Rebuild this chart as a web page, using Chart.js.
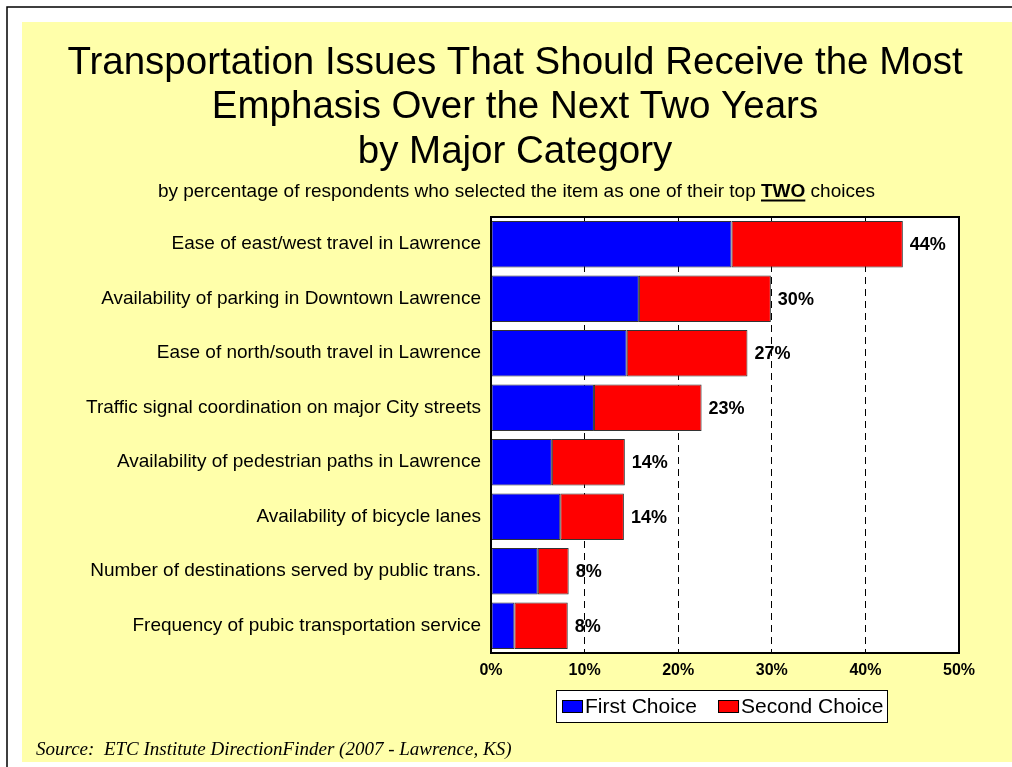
<!DOCTYPE html>
<html>
<head>
<meta charset="utf-8">
<title>Transportation Issues</title>
<script src="https://cdn.jsdelivr.net/npm/chart.js@4/dist/chart.umd.min.js"></script>
<style>
  body { margin: 0; background: #fff; }
  canvas { display: block; }
</style>
</head>
<body>
<canvas id="issuesChart" width="1012" height="767"></canvas>
<script>
const categories = [
    'Ease of east/west travel in Lawrence',
    'Availability of parking in Downtown Lawrence',
    'Ease of north/south travel in Lawrence',
    'Traffic signal coordination on major City streets',
    'Availability of pedestrian paths in Lawrence',
    'Availability of bicycle lanes',
    'Number of destinations served by public trans.',
    'Frequency of pubic transportation service'
];
const firstChoice = [25.7, 15.8, 14.5, 11.0, 6.5, 7.4, 5.0, 2.5];
const secondChoice = [18.3, 14.1, 12.9, 11.5, 7.8, 6.8, 3.3, 5.7];
const xTicks = [0, 10, 20, 30, 40, 50];

const titleLines = [
    'Transportation Issues That Should Receive the Most',
    'Emphasis Over the Next Two Years',
    'by Major Category'
];
const sourceText = 'Source:  ETC Institute DirectionFinder (2007 - Lawrence, KS)';

const SANS = '"Liberation Sans", Arial, sans-serif';
const SERIF = '"Liberation Serif", "Times New Roman", serif';
const YELLOW = '#FFFFAA';

// slide frame, titles, legend and source note
const slidePlugin = {
    id: 'slide',
    beforeDraw(chart) {
        const ctx = chart.ctx;
        const area = chart.chartArea;
        ctx.save();
        ctx.fillStyle = '#fff';
        ctx.fillRect(0, 0, chart.width, chart.height);
        ctx.strokeStyle = '#000';
        ctx.lineWidth = 1.5;
        ctx.beginPath();
        ctx.moveTo(7, chart.height);
        ctx.lineTo(7, 7);
        ctx.lineTo(chart.width, 7);
        ctx.stroke();
        ctx.fillStyle = YELLOW;
        ctx.fillRect(22, 22, chart.width - 22, 740);
        ctx.fillStyle = '#fff';
        ctx.fillRect(area.left, area.top, area.right - area.left, area.bottom - area.top);

        ctx.fillStyle = '#000';
        ctx.textAlign = 'center';
        ctx.textBaseline = 'alphabetic';
        ctx.font = '38.5px ' + SANS;
        const baselines = [74, 118, 163];
        titleLines.forEach((line, i) => ctx.fillText(line, 515, baselines[i]));

        // subtitle with the underlined bold word
        const partA = 'by percentage of respondents who selected the item as one of their top ';
        const partB = 'TWO';
        const partC = ' choices';
        const normal = '19px ' + SANS;
        const bold = 'bold 19px ' + SANS;
        ctx.font = normal;
        const wA = ctx.measureText(partA).width;
        const wC = ctx.measureText(partC).width;
        ctx.font = bold;
        const wB = ctx.measureText(partB).width;
        const x = 875 - (wA + wB + wC);
        const y = 197;
        ctx.textAlign = 'left';
        ctx.font = normal;
        ctx.fillText(partA, x, y);
        ctx.font = bold;
        ctx.fillText(partB, x + wA, y);
        ctx.fillRect(x + wA, y + 2.5, wB, 2);
        ctx.font = normal;
        ctx.fillText(partC, x + wA + wB, y);

        // source note
        ctx.font = 'italic 19px ' + SERIF;
        ctx.fillText(sourceText, 36, 755);

        // legend box
        ctx.fillStyle = '#fff';
        ctx.fillRect(556, 690, 331, 32);
        ctx.strokeStyle = '#000';
        ctx.lineWidth = 1;
        ctx.strokeRect(556.5, 690.5, 331, 32);
        ctx.font = '21px ' + SANS;
        ctx.textBaseline = 'middle';
        let lx = 562;
        chart.data.datasets.forEach(ds => {
            ctx.fillStyle = ds.backgroundColor;
            ctx.fillRect(lx, 700, 21, 13);
            ctx.strokeRect(lx + 0.5, 700.5, 20, 12);
            ctx.fillStyle = '#000';
            ctx.fillText(ds.label, lx + 23, 707);
            lx += 23 + ctx.measureText(ds.label).width + 21;
        });
        ctx.restore();
    },
    afterDatasetsDraw(chart) {
        const ctx = chart.ctx;
        const area = chart.chartArea;
        const xScale = chart.scales.x;
        const yScale = chart.scales.y;
        ctx.save();
        ctx.strokeStyle = '#000';
        ctx.lineWidth = 2;
        ctx.strokeRect(area.left, area.top, area.right - area.left, area.bottom - area.top);

        ctx.fillStyle = '#000';
        ctx.font = 'bold 18px ' + SANS;
        ctx.textAlign = 'left';
        ctx.textBaseline = 'middle';
        categories.forEach((c, i) => {
            const total = firstChoice[i] + secondChoice[i];
            ctx.fillText(Math.round(total) + '%', xScale.getPixelForValue(total) + 7, yScale.getPixelForValue(i) + 1);
        });
        ctx.restore();
    }
};

new Chart(document.getElementById('issuesChart'), {
    type: 'bar',
    data: {
        labels: categories,
        datasets: [{
            label: 'First Choice',
            data: firstChoice,
            backgroundColor: '#0000FF',
            borderColor: '#333',
            borderWidth: 1,
            borderSkipped: false
        }, {
            label: 'Second Choice',
            data: secondChoice,
            backgroundColor: '#FF0000',
            borderColor: '#333',
            borderWidth: 1,
            borderSkipped: false
        }]
    },
    options: {
        indexAxis: 'y',
        responsive: false,
        devicePixelRatio: 1,
        animation: false,
        barPercentage: 0.85,
        categoryPercentage: 1,
        layout: {
            padding: { left: 0, top: 217, right: 53, bottom: 74 }
        },
        scales: {
            x: {
                stacked: true,
                min: 0,
                max: 50,
                afterFit: scale => { scale.height = 40; },
                afterBuildTicks: scale => { scale.ticks = xTicks.map(v => ({ value: v })); },
                ticks: {
                    color: '#000',
                    padding: 8,
                    font: { family: SANS, size: 16, weight: 'bold' },
                    callback: v => v + '%'
                },
                grid: {
                    drawTicks: false,
                    lineWidth: 1,
                    color: c => (c.tick && (c.tick.value === 0 || c.tick.value === 50)) ? 'rgba(0,0,0,0)' : '#000'
                },
                border: { display: false, dash: [7, 5] }
            },
            y: {
                stacked: true,
                afterFit: scale => { scale.width = 491; },
                ticks: {
                    color: '#000',
                    padding: 10,
                    font: { family: SANS, size: 19 }
                },
                grid: { display: false, drawTicks: false },
                border: { display: false }
            }
        },
        plugins: {
            legend: { display: false },
            title: { display: false },
            tooltip: { enabled: false }
        }
    },
    plugins: [slidePlugin]
});
</script>
</body>
</html>
